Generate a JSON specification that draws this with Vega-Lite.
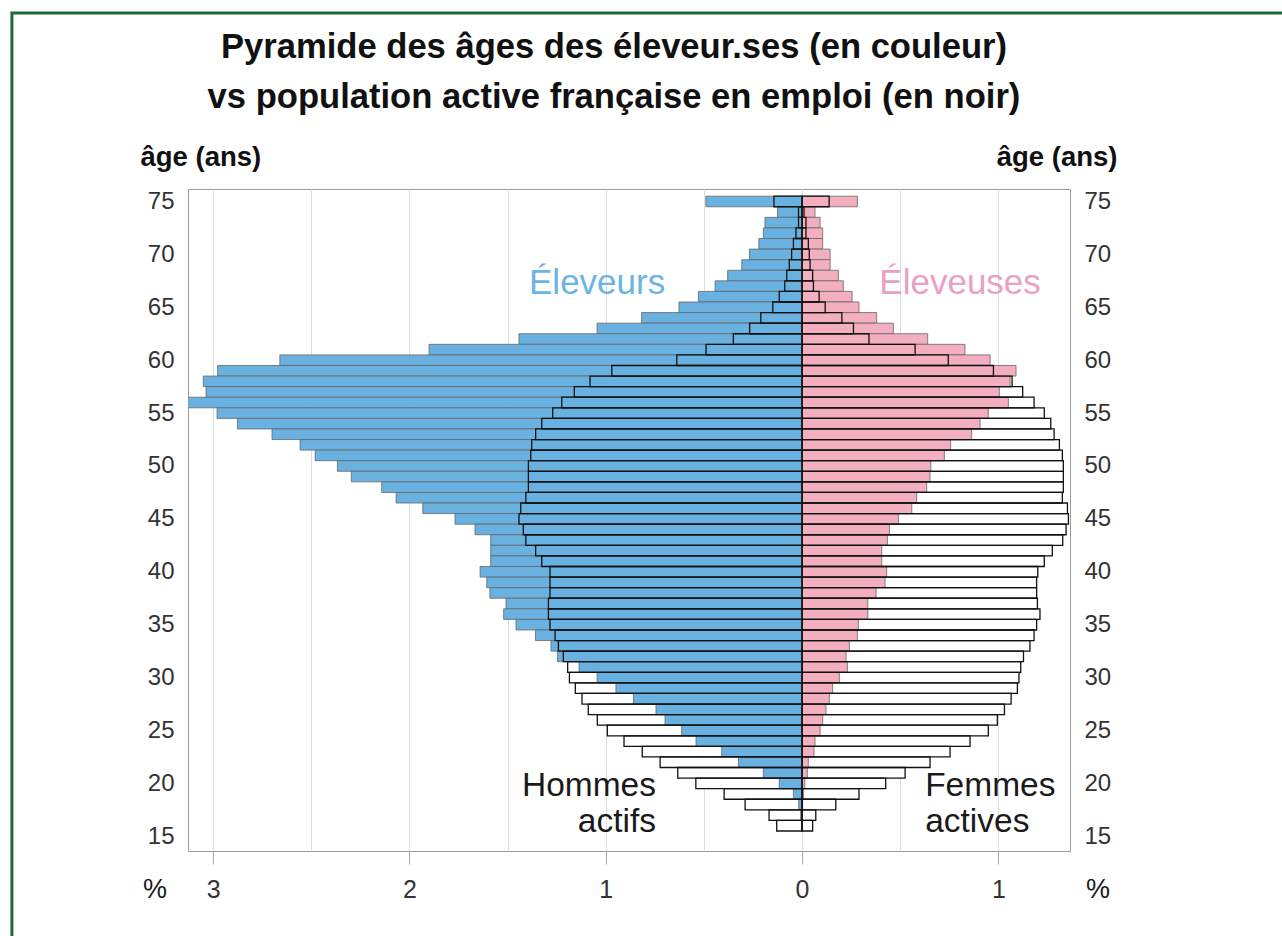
{
"$schema": "https://vega.github.io/schema/vega-lite/v6.json",
"width": 882,
"height": 662,
"autosize": {"type": "none"},
"padding": {"left": 188, "top": 189, "right": 212, "bottom": 85},
"background": "white",
"title": {"text": ["Pyramide des âges des éleveur.ses (en couleur)", "vs population active française en emploi (en noir)"], "font": "Liberation Sans", "fontSize": 34.6, "fontWeight": "bold", "color": "#111111", "lineHeight": 50, "anchor": "middle", "dx": -15, "dy": 114, "offset": 10},
"datasets": {"pyramide": [
{"age":75,"serie":"Éleveurs","pct":-0.49},{"age":74,"serie":"Éleveurs","pct":-0.125},{"age":73,"serie":"Éleveurs","pct":-0.189},{"age":72,"serie":"Éleveurs","pct":-0.197},{"age":71,"serie":"Éleveurs","pct":-0.22},{"age":70,"serie":"Éleveurs","pct":-0.268},{"age":69,"serie":"Éleveurs","pct":-0.307},{"age":68,"serie":"Éleveurs","pct":-0.379},{"age":67,"serie":"Éleveurs","pct":-0.443},{"age":66,"serie":"Éleveurs","pct":-0.528},{"age":65,"serie":"Éleveurs","pct":-0.627},{"age":64,"serie":"Éleveurs","pct":-0.817},{"age":63,"serie":"Éleveurs","pct":-1.044},{"age":62,"serie":"Éleveurs","pct":-1.442},{"age":61,"serie":"Éleveurs","pct":-1.9},{"age":60,"serie":"Éleveurs","pct":-2.66},{"age":59,"serie":"Éleveurs","pct":-2.977},{"age":58,"serie":"Éleveurs","pct":-3.05},{"age":57,"serie":"Éleveurs","pct":-3.036},{"age":56,"serie":"Éleveurs","pct":-3.13},{"age":55,"serie":"Éleveurs","pct":-2.98},{"age":54,"serie":"Éleveurs","pct":-2.876},{"age":53,"serie":"Éleveurs","pct":-2.7},{"age":52,"serie":"Éleveurs","pct":-2.557},{"age":51,"serie":"Éleveurs","pct":-2.48},{"age":50,"serie":"Éleveurs","pct":-2.367},{"age":49,"serie":"Éleveurs","pct":-2.296},{"age":48,"serie":"Éleveurs","pct":-2.141},{"age":47,"serie":"Éleveurs","pct":-2.068},{"age":46,"serie":"Éleveurs","pct":-1.932},{"age":45,"serie":"Éleveurs","pct":-1.768},{"age":44,"serie":"Éleveurs","pct":-1.666},{"age":43,"serie":"Éleveurs","pct":-1.586},{"age":42,"serie":"Éleveurs","pct":-1.586},{"age":41,"serie":"Éleveurs","pct":-1.586},{"age":40,"serie":"Éleveurs","pct":-1.64},{"age":39,"serie":"Éleveurs","pct":-1.606},{"age":38,"serie":"Éleveurs","pct":-1.59},{"age":37,"serie":"Éleveurs","pct":-1.508},{"age":36,"serie":"Éleveurs","pct":-1.52},{"age":35,"serie":"Éleveurs","pct":-1.457},{"age":34,"serie":"Éleveurs","pct":-1.358},{"age":33,"serie":"Éleveurs","pct":-1.279},{"age":32,"serie":"Éleveurs","pct":-1.246},{"age":31,"serie":"Éleveurs","pct":-1.136},{"age":30,"serie":"Éleveurs","pct":-1.044},{"age":29,"serie":"Éleveurs","pct":-0.948},{"age":28,"serie":"Éleveurs","pct":-0.859},{"age":27,"serie":"Éleveurs","pct":-0.744},{"age":26,"serie":"Éleveurs","pct":-0.698},{"age":25,"serie":"Éleveurs","pct":-0.613},{"age":24,"serie":"Éleveurs","pct":-0.54},{"age":23,"serie":"Éleveurs","pct":-0.409},{"age":22,"serie":"Éleveurs","pct":-0.324},{"age":21,"serie":"Éleveurs","pct":-0.197},{"age":20,"serie":"Éleveurs","pct":-0.116},{"age":19,"serie":"Éleveurs","pct":-0.044},{"age":18,"serie":"Éleveurs","pct":-0.017},{"age":17,"serie":"Éleveurs","pct":-0.007},{"age":16,"serie":"Éleveurs","pct":-0.003},
{"age":75,"serie":"Éleveuses","pct":0.282},{"age":74,"serie":"Éleveuses","pct":0.066},{"age":73,"serie":"Éleveuses","pct":0.092},{"age":72,"serie":"Éleveuses","pct":0.105},{"age":71,"serie":"Éleveuses","pct":0.105},{"age":70,"serie":"Éleveuses","pct":0.143},{"age":69,"serie":"Éleveuses","pct":0.143},{"age":68,"serie":"Éleveuses","pct":0.185},{"age":67,"serie":"Éleveuses","pct":0.21},{"age":66,"serie":"Éleveuses","pct":0.255},{"age":65,"serie":"Éleveuses","pct":0.29},{"age":64,"serie":"Éleveuses","pct":0.38},{"age":63,"serie":"Éleveuses","pct":0.465},{"age":62,"serie":"Éleveuses","pct":0.64},{"age":61,"serie":"Éleveuses","pct":0.83},{"age":60,"serie":"Éleveuses","pct":0.958},{"age":59,"serie":"Éleveuses","pct":1.09},{"age":58,"serie":"Éleveuses","pct":1.06},{"age":57,"serie":"Éleveuses","pct":1.005},{"age":56,"serie":"Éleveuses","pct":1.051},{"age":55,"serie":"Éleveuses","pct":0.949},{"age":54,"serie":"Éleveuses","pct":0.907},{"age":53,"serie":"Éleveuses","pct":0.864},{"age":52,"serie":"Éleveuses","pct":0.757},{"age":51,"serie":"Éleveuses","pct":0.725},{"age":50,"serie":"Éleveuses","pct":0.656},{"age":49,"serie":"Éleveuses","pct":0.652},{"age":48,"serie":"Éleveuses","pct":0.635},{"age":47,"serie":"Éleveuses","pct":0.584},{"age":46,"serie":"Éleveuses","pct":0.559},{"age":45,"serie":"Éleveuses","pct":0.491},{"age":44,"serie":"Éleveuses","pct":0.445},{"age":43,"serie":"Éleveuses","pct":0.435},{"age":42,"serie":"Éleveuses","pct":0.406},{"age":41,"serie":"Éleveuses","pct":0.406},{"age":40,"serie":"Éleveuses","pct":0.431},{"age":39,"serie":"Éleveuses","pct":0.423},{"age":38,"serie":"Éleveuses","pct":0.377},{"age":37,"serie":"Éleveuses","pct":0.335},{"age":36,"serie":"Éleveuses","pct":0.335},{"age":35,"serie":"Éleveuses","pct":0.287},{"age":34,"serie":"Éleveuses","pct":0.282},{"age":33,"serie":"Éleveuses","pct":0.241},{"age":32,"serie":"Éleveuses","pct":0.224},{"age":31,"serie":"Éleveuses","pct":0.231},{"age":30,"serie":"Éleveuses","pct":0.19},{"age":29,"serie":"Éleveuses","pct":0.156},{"age":28,"serie":"Éleveuses","pct":0.139},{"age":27,"serie":"Éleveuses","pct":0.122},{"age":26,"serie":"Éleveuses","pct":0.105},{"age":25,"serie":"Éleveuses","pct":0.092},{"age":24,"serie":"Éleveuses","pct":0.066},{"age":23,"serie":"Éleveuses","pct":0.061},{"age":22,"serie":"Éleveuses","pct":0.032},{"age":21,"serie":"Éleveuses","pct":0.027},{"age":20,"serie":"Éleveuses","pct":0.014},{"age":19,"serie":"Éleveuses","pct":0.008},{"age":18,"serie":"Éleveuses","pct":0.003},{"age":17,"serie":"Éleveuses","pct":0.002},{"age":16,"serie":"Éleveuses","pct":0.001},
{"age":75,"serie":"Hommes actifs","pct":-0.143},{"age":74,"serie":"Hommes actifs","pct":-0.018},{"age":73,"serie":"Hommes actifs","pct":-0.018},{"age":72,"serie":"Hommes actifs","pct":-0.031},{"age":71,"serie":"Hommes actifs","pct":-0.044},{"age":70,"serie":"Hommes actifs","pct":-0.053},{"age":69,"serie":"Hommes actifs","pct":-0.065},{"age":68,"serie":"Hommes actifs","pct":-0.078},{"age":67,"serie":"Hommes actifs","pct":-0.088},{"age":66,"serie":"Hommes actifs","pct":-0.116},{"age":65,"serie":"Hommes actifs","pct":-0.149},{"age":64,"serie":"Hommes actifs","pct":-0.21},{"age":63,"serie":"Hommes actifs","pct":-0.267},{"age":62,"serie":"Hommes actifs","pct":-0.35},{"age":61,"serie":"Hommes actifs","pct":-0.489},{"age":60,"serie":"Hommes actifs","pct":-0.638},{"age":59,"serie":"Hommes actifs","pct":-0.969},{"age":58,"serie":"Hommes actifs","pct":-1.08},{"age":57,"serie":"Hommes actifs","pct":-1.16},{"age":56,"serie":"Hommes actifs","pct":-1.224},{"age":55,"serie":"Hommes actifs","pct":-1.27},{"age":54,"serie":"Hommes actifs","pct":-1.326},{"age":53,"serie":"Hommes actifs","pct":-1.357},{"age":52,"serie":"Hommes actifs","pct":-1.377},{"age":51,"serie":"Hommes actifs","pct":-1.382},{"age":50,"serie":"Hommes actifs","pct":-1.394},{"age":49,"serie":"Hommes actifs","pct":-1.394},{"age":48,"serie":"Hommes actifs","pct":-1.394},{"age":47,"serie":"Hommes actifs","pct":-1.407},{"age":46,"serie":"Hommes actifs","pct":-1.433},{"age":45,"serie":"Hommes actifs","pct":-1.442},{"age":44,"serie":"Hommes actifs","pct":-1.42},{"age":43,"serie":"Hommes actifs","pct":-1.407},{"age":42,"serie":"Hommes actifs","pct":-1.357},{"age":41,"serie":"Hommes actifs","pct":-1.326},{"age":40,"serie":"Hommes actifs","pct":-1.284},{"age":39,"serie":"Hommes actifs","pct":-1.284},{"age":38,"serie":"Hommes actifs","pct":-1.284},{"age":37,"serie":"Hommes actifs","pct":-1.292},{"age":36,"serie":"Hommes actifs","pct":-1.292},{"age":35,"serie":"Hommes actifs","pct":-1.284},{"age":34,"serie":"Hommes actifs","pct":-1.258},{"age":33,"serie":"Hommes actifs","pct":-1.241},{"age":32,"serie":"Hommes actifs","pct":-1.216},{"age":31,"serie":"Hommes actifs","pct":-1.194},{"age":30,"serie":"Hommes actifs","pct":-1.185},{"age":29,"serie":"Hommes actifs","pct":-1.155},{"age":28,"serie":"Hommes actifs","pct":-1.121},{"age":27,"serie":"Hommes actifs","pct":-1.089},{"age":26,"serie":"Hommes actifs","pct":-1.043},{"age":25,"serie":"Hommes actifs","pct":-0.992},{"age":24,"serie":"Hommes actifs","pct":-0.907},{"age":23,"serie":"Hommes actifs","pct":-0.814},{"age":22,"serie":"Hommes actifs","pct":-0.723},{"age":21,"serie":"Hommes actifs","pct":-0.633},{"age":20,"serie":"Hommes actifs","pct":-0.541},{"age":19,"serie":"Hommes actifs","pct":-0.397},{"age":18,"serie":"Hommes actifs","pct":-0.29},{"age":17,"serie":"Hommes actifs","pct":-0.168},{"age":16,"serie":"Hommes actifs","pct":-0.129},
{"age":75,"serie":"Femmes actives","pct":0.138},{"age":74,"serie":"Femmes actives","pct":0.01},{"age":73,"serie":"Femmes actives","pct":0.02},{"age":72,"serie":"Femmes actives","pct":0.02},{"age":71,"serie":"Femmes actives","pct":0.032},{"age":70,"serie":"Femmes actives","pct":0.037},{"age":69,"serie":"Femmes actives","pct":0.041},{"age":68,"serie":"Femmes actives","pct":0.054},{"age":67,"serie":"Femmes actives","pct":0.058},{"age":66,"serie":"Femmes actives","pct":0.087},{"age":65,"serie":"Femmes actives","pct":0.118},{"age":64,"serie":"Femmes actives","pct":0.203},{"age":63,"serie":"Femmes actives","pct":0.262},{"age":62,"serie":"Femmes actives","pct":0.341},{"age":61,"serie":"Femmes actives","pct":0.576},{"age":60,"serie":"Femmes actives","pct":0.745},{"age":59,"serie":"Femmes actives","pct":0.975},{"age":58,"serie":"Femmes actives","pct":1.07},{"age":57,"serie":"Femmes actives","pct":1.124},{"age":56,"serie":"Femmes actives","pct":1.182},{"age":55,"serie":"Femmes actives","pct":1.234},{"age":54,"serie":"Femmes actives","pct":1.267},{"age":53,"serie":"Femmes actives","pct":1.284},{"age":52,"serie":"Femmes actives","pct":1.311},{"age":51,"serie":"Femmes actives","pct":1.326},{"age":50,"serie":"Femmes actives","pct":1.331},{"age":49,"serie":"Femmes actives","pct":1.331},{"age":48,"serie":"Femmes actives","pct":1.331},{"age":47,"serie":"Femmes actives","pct":1.326},{"age":46,"serie":"Femmes actives","pct":1.352},{"age":45,"serie":"Femmes actives","pct":1.357},{"age":44,"serie":"Femmes actives","pct":1.345},{"age":43,"serie":"Femmes actives","pct":1.328},{"age":42,"serie":"Femmes actives","pct":1.275},{"age":41,"serie":"Femmes actives","pct":1.234},{"age":40,"serie":"Femmes actives","pct":1.201},{"age":39,"serie":"Femmes actives","pct":1.195},{"age":38,"serie":"Femmes actives","pct":1.195},{"age":37,"serie":"Femmes actives","pct":1.199},{"age":36,"serie":"Femmes actives","pct":1.212},{"age":35,"serie":"Femmes actives","pct":1.195},{"age":34,"serie":"Femmes actives","pct":1.182},{"age":33,"serie":"Femmes actives","pct":1.161},{"age":32,"serie":"Femmes actives","pct":1.128},{"age":31,"serie":"Femmes actives","pct":1.114},{"age":30,"serie":"Femmes actives","pct":1.105},{"age":29,"serie":"Femmes actives","pct":1.097},{"age":28,"serie":"Femmes actives","pct":1.065},{"age":27,"serie":"Femmes actives","pct":1.031},{"age":26,"serie":"Femmes actives","pct":0.995},{"age":25,"serie":"Femmes actives","pct":0.949},{"age":24,"serie":"Femmes actives","pct":0.856},{"age":23,"serie":"Femmes actives","pct":0.754},{"age":22,"serie":"Femmes actives","pct":0.652},{"age":21,"serie":"Femmes actives","pct":0.525},{"age":20,"serie":"Femmes actives","pct":0.426},{"age":19,"serie":"Femmes actives","pct":0.29},{"age":18,"serie":"Femmes actives","pct":0.172},{"age":17,"serie":"Femmes actives","pct":0.07},{"age":16,"serie":"Femmes actives","pct":0.054}
]},
"data": {"name": "pyramide"},
"layer": [
{
"transform": [{"filter": {"field": "serie", "oneOf": ["Hommes actifs", "Femmes actives"]}}],
"mark": {"type": "bar", "orient": "horizontal", "height": 10.58, "fill": "white", "strokeWidth": 0, "clip": true},
"encoding": {
"x": {"field": "pct", "type": "quantitative", "stack": null, "title": null,
"scale": {"domain": [-3.128, 1.365], "nice": false, "zero": false, "padding": 0},
"axis": {"values": [-3, -2.5, -2, -1.5, -1, -0.5, 0, 0.5, 1], "labelExpr": "datum.value % 1 === 0 ? format(abs(datum.value), 'd') : ''", "labelOverlap": false, "grid": true, "gridColor": "#dddddd", "gridWidth": 1, "domain": false, "ticks": true, "tickSize": 13, "tickColor": {"condition": {"test": "datum.value % 1 === 0", "value": "#aaaaaa"}, "value": "transparent"}, "labelFont": "Liberation Sans", "labelFontSize": 25, "labelColor": "#333333", "labelPadding": 13}},
"y": {"field": "age", "type": "quantitative", "title": "âge (ans)",
"scale": {"domain": [13.61, 76.18], "nice": false, "zero": false, "padding": 0},
"axis": {"orient": "left", "values": [15, 20, 25, 30, 35, 40, 45, 50, 55, 60, 65, 70, 75], "grid": false, "ticks": false, "domain": false, "labelFont": "Liberation Sans", "labelFontSize": 24, "labelColor": "#333333", "labelPadding": 14, "titleAngle": 0, "titleAlign": "left", "titleBaseline": "middle", "titleX": -48, "titleY": -32, "titleFont": "Liberation Sans", "titleFontSize": 27.5, "titleFontWeight": "bold", "titleColor": "#111111"}}
}
},
{
"transform": [{"filter": {"field": "serie", "oneOf": ["Éleveurs", "Éleveuses"]}}],
"mark": {"type": "bar", "orient": "horizontal", "height": 10.58, "stroke": "#666666", "strokeWidth": 0.8, "clip": true},
"encoding": {
"x": {"field": "pct", "type": "quantitative", "stack": null, "title": null},
"y": {"field": "age", "type": "quantitative", "title": null, "axis": null},
"color": {"field": "serie", "type": "nominal", "legend": null, "scale": {"domain": ["Éleveurs", "Éleveuses"], "range": ["#69B1E1", "#F3AFC0"]}}
}
},
{
"transform": [{"filter": {"field": "serie", "oneOf": ["Hommes actifs", "Femmes actives"]}}],
"mark": {"type": "bar", "orient": "horizontal", "height": 10.58, "fill": null, "fillOpacity": 0, "stroke": "#111111", "strokeWidth": 1.3, "clip": true},
"encoding": {
"x": {"field": "pct", "type": "quantitative", "stack": null, "title": null},
"y": {"field": "age", "type": "quantitative", "title": "âge (ans)",
"axis": {"orient": "right", "values": [15, 20, 25, 30, 35, 40, 45, 50, 55, 60, 65, 70, 75], "grid": false, "ticks": false, "domain": false, "labelFont": "Liberation Sans", "labelFontSize": 24, "labelColor": "#333333", "labelPadding": 14, "titleAngle": 0, "titleAlign": "right", "titleBaseline": "middle", "titleX": 47, "titleY": -32, "titleFont": "Liberation Sans", "titleFontSize": 27.5, "titleFontWeight": "bold", "titleColor": "#111111"}}
}
},
{
"data": {"values": [{}]},
"mark": {"type": "text", "text": "Éleveurs", "font": "Liberation Sans", "fontSize": 35, "color": "#6BB4E4", "align": "center", "baseline": "alphabetic"},
"encoding": {"x": {"datum": -1.044, "type": "quantitative"}, "y": {"datum": 66.26, "type": "quantitative", "axis": null}}
},
{
"data": {"values": [{}]},
"mark": {"type": "text", "text": "Éleveuses", "font": "Liberation Sans", "fontSize": 35, "color": "#E9A0C6", "align": "center", "baseline": "alphabetic"},
"encoding": {"x": {"datum": 0.805, "type": "quantitative"}, "y": {"datum": 66.26, "type": "quantitative", "axis": null}}
},
{
"data": {"values": [{}]},
"mark": {"type": "text", "text": ["Hommes", "actifs"], "lineHeight": 36, "font": "Liberation Sans", "fontSize": 33.5, "color": "#1a1a1a", "align": "right", "baseline": "alphabetic"},
"encoding": {"x": {"datum": -0.744, "type": "quantitative"}, "y": {"datum": 18.85, "type": "quantitative", "axis": null}}
},
{
"data": {"values": [{}]},
"mark": {"type": "text", "text": ["Femmes", "actives"], "lineHeight": 36, "font": "Liberation Sans", "fontSize": 33.5, "color": "#1a1a1a", "align": "left", "baseline": "alphabetic"},
"encoding": {"x": {"datum": 0.627, "type": "quantitative"}, "y": {"datum": 18.85, "type": "quantitative", "axis": null}}
},
{
"data": {"values": [{}]},
"mark": {"type": "text", "text": "%", "font": "Liberation Sans", "fontSize": 27, "color": "#1a1a1a", "align": "center", "baseline": "alphabetic"},
"encoding": {"x": {"datum": -3.296, "type": "quantitative"}, "y": {"datum": 9.17, "type": "quantitative", "axis": null}}
},
{
"data": {"values": [{}]},
"mark": {"type": "text", "text": "%", "font": "Liberation Sans", "fontSize": 27, "color": "#1a1a1a", "align": "center", "baseline": "alphabetic"},
"encoding": {"x": {"datum": 1.508, "type": "quantitative"}, "y": {"datum": 9.17, "type": "quantitative", "axis": null}}
},
{
"data": {"values": [{}]},
"mark": {"type": "rect", "fill": null, "fillOpacity": 0, "stroke": "#1E6B33", "strokeWidth": 3},
"encoding": {"x": {"datum": -4.025, "type": "quantitative"}, "x2": {"datum": 2.6}, "y": {"datum": 92.82, "type": "quantitative", "axis": null}, "y2": {"datum": 3.0}}
}
],
"resolve": {"axis": {"y": "independent"}},
"config": {
"view": {"stroke": "#9a9a9a", "strokeWidth": 1},
"font": "Liberation Sans"
}
}
